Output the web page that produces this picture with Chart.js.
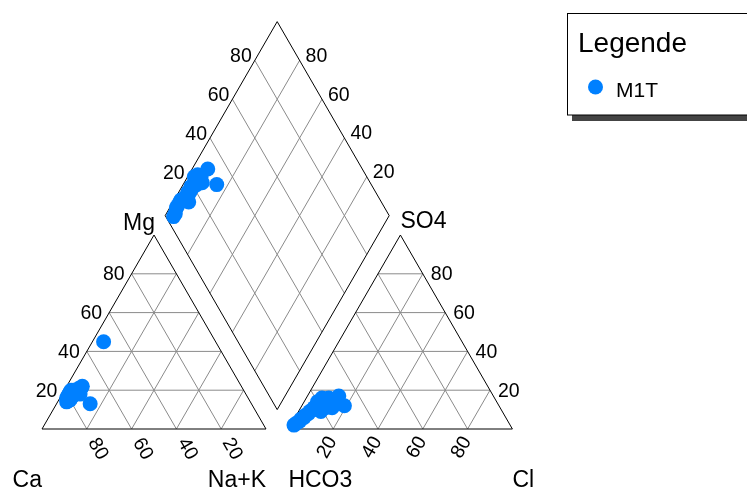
<!DOCTYPE html>
<html>
<head>
<meta charset="utf-8">
<title>Piper-Diagramm M1T</title>
<script src="https://cdn.jsdelivr.net/npm/chart.js@4.4.1/dist/chart.umd.min.js"></script>
<style>
  html, body { margin: 0; padding: 0; background: #fff; }
  #wrap { width: 747px; height: 489px; }
</style>
</head>
<body>
<div id="wrap"><canvas id="piper" width="747" height="489"></canvas></div>
<script>
// Gitterwerte und Beschriftung (Prozent)
const TICKS = [20, 40, 60, 80];
const SERIES_NAME = 'M1T';
const LEGEND_TITLE = 'Legende';

// Analysen M1T, Anteile in meq-%
const ca   = [81, 82, 81, 80, 79, 78, 76, 72, 78, 78, 80, 80, 77, 77, 50, 73, 72, 80, 74, 71, 78, 75, 79, 75];
const mg   = [15, 14, 16, 17, 18, 19, 20, 21, 18, 17, 16, 15, 20, 19, 45, 21, 13, 16, 18, 22, 17, 19, 16, 20];
const nak  = [ 4,  4,  3,  3,  3,  3,  4,  7,  4,  5,  4,  5,  3,  4,  5,  6, 15,  4,  8,  7,  5,  6,  5,  5];
const hco3 = [96.5, 95, 93, 92, 90, 89, 87, 86, 84, 83, 81, 79, 77, 76, 80, 74, 69, 75, 75, 69, 80, 78, 81, 77];
const so4  = [ 2,  3,  4,  5,  6,  7,  8,  9, 10, 11, 12, 13, 14, 15, 12, 16, 12, 11, 13, 17, 14, 11,  9, 16];
const cl   = [1.5, 2, 3, 3, 4, 4, 5, 5, 6, 6, 7, 8, 9, 9, 8, 10, 19, 14, 12, 14, 6, 11, 10, 7];

// Geometrie: Dreiecksseite 100, Abstand 10 zwischen den Dreiecken
const SIDE = 100, GAP = 10, H = Math.sqrt(3) / 2;
const PX = 2.24, ORIGIN_X = 42, ORIGIN_Y = 429, W = 747, HT = 489;

function cationXY(c, m, n) {
  return { x: (n + m / 2) * SIDE / 100, y: m * H * SIDE / 100 };
}
function anionXY(h, s, c) {
  return { x: SIDE + GAP + (c + s / 2) * SIDE / 100, y: s * H * SIDE / 100 };
}
function diamondXY(n, h) {
  const x1 = n * SIDE / 100;
  const x2 = SIDE + GAP + (100 - h) * SIDE / 100;
  return { x: (x1 + x2) / 2, y: (x2 - x1) * H };
}

const BREAK = () => ({ x: null, y: null });
function addSeg(list, a, b) { list.push(a, b, BREAK()); }

// Rahmen
const frame = [];
frame.push(cationXY(100, 0, 0), cationXY(0, 0, 100), cationXY(0, 100, 0), cationXY(100, 0, 0), BREAK());
frame.push(anionXY(100, 0, 0), anionXY(0, 0, 100), anionXY(0, 100, 0), anionXY(100, 0, 0), BREAK());
frame.push(diamondXY(0, 100), diamondXY(0, 0), diamondXY(100, 0), diamondXY(100, 100), diamondXY(0, 100));

// Gitter
const grid = [];
TICKS.forEach(t => {
  addSeg(grid, cationXY(100 - t, t, 0), cationXY(0, t, 100 - t));
  addSeg(grid, cationXY(t, 100 - t, 0), cationXY(t, 0, 100 - t));
  addSeg(grid, cationXY(100 - t, 0, t), cationXY(0, 100 - t, t));
  addSeg(grid, anionXY(100 - t, t, 0), anionXY(0, t, 100 - t));
  addSeg(grid, anionXY(t, 100 - t, 0), anionXY(t, 0, 100 - t));
  addSeg(grid, anionXY(100 - t, 0, t), anionXY(0, 100 - t, t));
  addSeg(grid, diamondXY(t, 100), diamondXY(t, 0));
  addSeg(grid, diamondXY(100, t), diamondXY(0, t));
});

// Messpunkte in allen drei Feldern
const points = [];
ca.forEach((c, i) => {
  points.push(cationXY(c, mg[i], nak[i]));
  points.push(anionXY(hco3[i], so4[i], cl[i]));
  points.push(diamondXY(nak[i], hco3[i]));
});

const BLUE = '#0080ff';
const FONT = '"Liberation Sans", Arial, Helvetica, sans-serif';

const piperText = {
  id: 'piperText',
  afterDraw(chart) {
    const { ctx, scales: { x, y } } = chart;
    const px = p => ({ x: x.getPixelForValue(p.x), y: y.getPixelForValue(p.y) });
    ctx.save();
    ctx.fillStyle = '#000';

    // Skalen an den Kanten
    ctx.font = '19.5px ' + FONT;
    ctx.textBaseline = 'middle';
    TICKS.forEach(t => {
      let p = px(cationXY(100 - t, t, 0));
      ctx.textAlign = 'right'; ctx.fillText(String(t), p.x - 7, p.y + 1);
      p = px(anionXY(0, t, 100 - t));
      ctx.textAlign = 'left'; ctx.fillText(String(t), p.x + 8, p.y + 1);
      p = px(diamondXY(0, 100 - t));
      ctx.textAlign = 'right'; ctx.fillText(String(t), p.x - 3, p.y - 3.5);
      p = px(diamondXY(100 - t, 0));
      ctx.textAlign = 'left'; ctx.fillText(String(t), p.x + 6, p.y - 4);

      ctx.textAlign = 'center';
      p = px(cationXY(t, 0, 100 - t));
      ctx.save(); ctx.translate(p.x + 11, p.y + 20); ctx.rotate(Math.PI / 3);
      ctx.fillText(String(t), 0, 0); ctx.restore();
      p = px(anionXY(100 - t, 0, t));
      ctx.save(); ctx.translate(p.x - 6, p.y + 18.5); ctx.rotate(-Math.PI / 3);
      ctx.fillText(String(t), 0, 0); ctx.restore();
    });

    // Ionen an den Ecken
    ctx.font = '23px ' + FONT;
    ctx.textBaseline = 'alphabetic';
    let p = px(cationXY(100, 0, 0));
    ctx.textAlign = 'right'; ctx.fillText('Ca', p.x, 487);
    p = px(cationXY(0, 0, 100));
    ctx.fillText('Na+K', p.x, 487);
    p = px(cationXY(0, 100, 0));
    ctx.fillText('Mg', p.x + 1, p.y - 5);
    p = px(anionXY(100, 0, 0));
    ctx.textAlign = 'left'; ctx.fillText('HCO3', p.x, 487);
    p = px(anionXY(0, 0, 100));
    ctx.fillText('Cl', p.x, 487);
    p = px(anionXY(0, 100, 0));
    ctx.fillText('SO4', p.x, p.y - 7);

    // Legende
    ctx.fillStyle = '#444';
    ctx.fillRect(572, 115, 190, 6);
    ctx.fillStyle = '#fff';
    ctx.fillRect(567.5, 13.5, 190, 101.5);
    ctx.strokeStyle = '#000'; ctx.lineWidth = 1;
    ctx.strokeRect(567.5, 13.5, 190, 101.5);
    ctx.fillStyle = '#000';
    ctx.font = '28px ' + FONT;
    ctx.fillText(LEGEND_TITLE, 578, 52);
    ctx.fillStyle = BLUE;
    ctx.beginPath(); ctx.arc(595.5, 87, 7.5, 0, Math.PI * 2); ctx.fill();
    ctx.fillStyle = '#000';
    ctx.font = '21px ' + FONT;
    ctx.fillText(SERIES_NAME, 616, 97);
    ctx.restore();
  }
};

new Chart(document.getElementById('piper'), {
  type: 'scatter',
  data: {
    datasets: [
      { label: SERIES_NAME, data: points, backgroundColor: BLUE, borderWidth: 0, pointRadius: 7.5, pointHoverRadius: 7.5 },
      { label: 'Rahmen', data: frame, showLine: true, borderColor: '#000', borderWidth: 1, pointRadius: 0, pointHitRadius: 0 },
      { label: 'Gitter', data: grid, showLine: true, borderColor: '#8a8a8a', borderWidth: 1, pointRadius: 0, pointHitRadius: 0 }
    ]
  },
  options: {
    responsive: false,
    animation: false,
    events: [],
    layout: { padding: 0, autoPadding: false },
    plugins: { legend: { display: false }, tooltip: { enabled: false } },
    scales: {
      x: { type: 'linear', display: false, min: -ORIGIN_X / PX, max: (W - ORIGIN_X) / PX },
      y: { type: 'linear', display: false, min: -(HT - ORIGIN_Y) / PX, max: ORIGIN_Y / PX }
    }
  },
  plugins: [piperText]
});
</script>
</body>
</html>
